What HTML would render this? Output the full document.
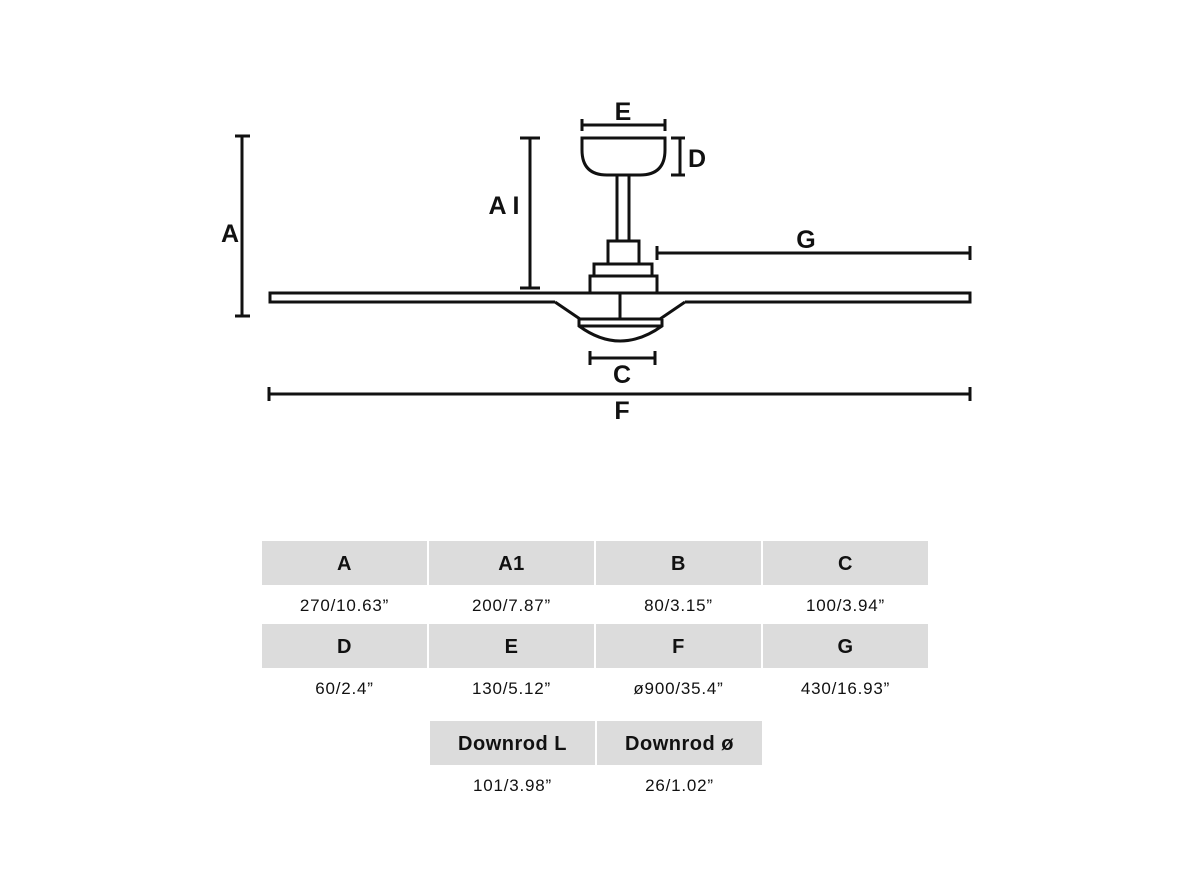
<!DOCTYPE html>
<html><head><meta charset="utf-8"><style>
body{margin:0;width:1192px;height:894px;background:#fff;position:relative;overflow:hidden;font-family:"Liberation Sans",sans-serif}
.h{position:absolute;height:44px;width:165px;background:#dcdcdc;font-weight:bold;font-size:20px;text-align:center;line-height:46px;color:#111;letter-spacing:0.5px}
.v{position:absolute;width:165px;font-size:17px;text-align:center;color:#111;letter-spacing:0.8px}
svg{position:absolute;left:0;top:0}
</style></head><body>
<svg width="1192" height="894" fill="none" stroke="#111" stroke-width="3">
<path d="M555 302 L270 302 L270 293 L970 293 L970 302 L685 302"/>
<path d="M555 302 L580 319 L660 319 L685 302"/>
<line x1="620" y1="293" x2="620" y2="319"/>
<path d="M579 319 L579 326 Q620 356 662 326 L662 319"/>
<line x1="579" y1="326" x2="662" y2="326"/>
<rect x="590" y="276" width="67" height="17"/>
<rect x="594" y="264" width="58" height="12"/>
<rect x="608" y="241" width="31" height="23"/>
<rect x="617" y="175" width="12" height="66"/>
<path d="M582 138 L665 138 L665 150 Q665 175 640 175 L607 175 Q582 175 582 150 Z"/>
<path d="M582 125 L665 125 M582 119 V131 M665 119 V131"/>
<path d="M680 138 V175 M671 138 H685 M671 175 H685"/>
<path d="M530 138 V288 M520 138 H540 M520 288 H540"/>
<path d="M657 253 H970 M657 246 V260 M970 246 V260"/>
<path d="M242 136 V316 M235 136 H250 M235 316 H250"/>
<path d="M269 394 H970 M269 387 V401 M970 387 V401"/>
<path d="M590 358 H655 M590 351 V365 M655 351 V365"/>
<g fill="#111" stroke="none" font-family="Liberation Sans" font-weight="bold" font-size="25" text-anchor="middle">
<text x="230" y="242">A</text>
<text x="504" y="214">A I</text>
<text x="623" y="120">E</text>
<text x="697" y="167">D</text>
<text x="806" y="248">G</text>
<text x="622" y="383">C</text>
<text x="622" y="419">F</text>
</g>
</svg>
<div class="h" style="left:262px;top:541px">A</div>
<div class="h" style="left:429px;top:541px">A1</div>
<div class="h" style="left:596px;top:541px">B</div>
<div class="h" style="left:763px;top:541px">C</div>
<div class="v" style="left:262px;top:596px">270/10.63”</div>
<div class="v" style="left:429px;top:596px">200/7.87”</div>
<div class="v" style="left:596px;top:596px">80/3.15”</div>
<div class="v" style="left:763px;top:596px">100/3.94”</div>
<div class="h" style="left:262px;top:624px">D</div>
<div class="h" style="left:429px;top:624px">E</div>
<div class="h" style="left:596px;top:624px">F</div>
<div class="h" style="left:763px;top:624px">G</div>
<div class="v" style="left:262px;top:679px">60/2.4”</div>
<div class="v" style="left:429px;top:679px">130/5.12”</div>
<div class="v" style="left:596px;top:679px">ø900/35.4”</div>
<div class="v" style="left:763px;top:679px">430/16.93”</div>
<div class="h" style="left:430px;top:721px">Downrod L</div>
<div class="h" style="left:597px;top:721px">Downrod ø</div>
<div class="v" style="left:430px;top:776px">101/3.98”</div>
<div class="v" style="left:597px;top:776px">26/1.02”</div>
</body></html>
